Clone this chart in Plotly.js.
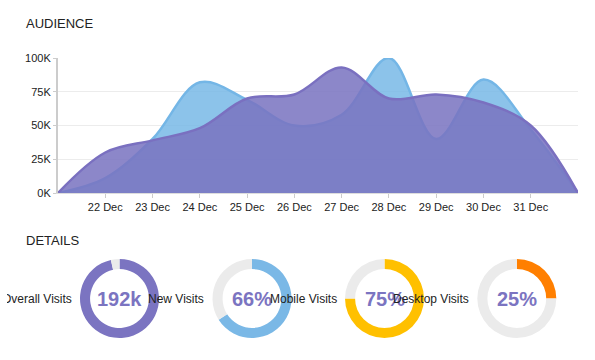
<!DOCTYPE html>
<html>
<head>
<meta charset="utf-8">
<script src="https://cdn.plot.ly/plotly-3.0.1.min.js"></script>
<style>
  html, body { margin: 0; padding: 0; background: #fff; overflow: hidden; }
  #chart { position: absolute; left: 7px; top: 0; width: 588px; height: 360px; }
</style>
</head>
<body>
<div id="chart"></div>
<script>
// ---- data ----
const days = ["2016-12-21","2016-12-22","2016-12-23","2016-12-24","2016-12-25","2016-12-26",
              "2016-12-27","2016-12-28","2016-12-29","2016-12-30","2016-12-31","2017-01-01"];
const newVisits   = [0, 11000, 40000, 82000, 69000, 50000, 58000, 100000, 40000, 84000, 47000, 0];
const totalVisits = [0, 30000, 39000, 48000, 70000, 73000, 93000, 70000, 73000, 67000, 50000, 0];
const xTickDays   = ["2016-12-22","2016-12-23","2016-12-24","2016-12-25","2016-12-26",
                     "2016-12-27","2016-12-28","2016-12-29","2016-12-30","2016-12-31"];
const yTickVals   = [0, 25000, 50000, 75000, 100000];
const yTickText   = ["0K", "25K", "50K", "75K", "100K"];

const detailLabels = ["Overall Visits", "New Visits", "Mobile Visits", "Desktop Visits"];
const detailText   = ["192k", "66%", "75%", "25%"];
const detailValue  = [96.5, 66, 75, 25];   // filled share of each ring (%)
const detailColors = ["#7b74c1", "#7ab8e6", "#ffc000", "#ff7f00"];

// ---- layout helpers (page pixels -> paper fractions) ----
const W = 588, H = 360, OFF = 7;
const px = X => (X - OFF) / W;
const py = Y => 1 - Y / H;

const font = "Liberation Sans, Arial, sans-serif";

const traces = [
  {
    x: days, y: newVisits, type: "scatter", mode: "lines",
    line: {shape: "spline", smoothing: 1, color: "#74b6e6", width: 2.5},
    fill: "tozeroy", fillcolor: "rgba(120,185,230,0.85)",
    hoverinfo: "skip", xaxis: "x", yaxis: "y"
  },
  {
    x: days, y: totalVisits, type: "scatter", mode: "lines",
    line: {shape: "spline", smoothing: 1, color: "#7a70c0", width: 2.5},
    fill: "tozeroy", fillcolor: "rgba(121,115,192,0.86)",
    hoverinfo: "skip", xaxis: "x", yaxis: "y"
  }
];

const centers = [119.5, 252, 384.5, 516.8];
const cy = 298.5, R = 39.5;
const annotations = [
  {text: "AUDIENCE", x: px(24), y: py(24), xref: "paper", yref: "paper",
   xanchor: "left", yanchor: "middle", showarrow: false,
   font: {family: font, size: 13, color: "#222"}},
  {text: "DETAILS", x: px(24), y: py(241), xref: "paper", yref: "paper",
   xanchor: "left", yanchor: "middle", showarrow: false,
   font: {family: font, size: 13, color: "#222"}}
];

detailLabels.forEach((lab, i) => {
  const c = centers[i];
  traces.push({
    type: "pie", values: [detailValue[i], 100 - detailValue[i]],
    marker: {colors: [detailColors[i], "#ebebeb"], line: {width: 0}},
    hole: 0.745, sort: false, direction: "clockwise", rotation: 0,
    textinfo: "none", hoverinfo: "skip", showlegend: false,
    domain: {x: [px(c - R), px(c + R)], y: [py(cy + R), py(cy - R)]}
  });
  annotations.push({
    text: lab, x: px(c - 46), y: py(cy), xref: "paper", yref: "paper",
    xanchor: "right", yanchor: "middle", showarrow: false,
    font: {family: font, size: 12, color: "#222"}
  });
  annotations.push({
    text: "<b>" + detailText[i] + "</b>", x: px(c), y: py(cy), xref: "paper", yref: "paper",
    xanchor: "center", yanchor: "middle", showarrow: false,
    font: {family: font, size: 20, color: "#7b74c1"}
  });
});

const layout = {
  width: W, height: H,
  margin: {l: 0, r: 0, t: 0, b: 0},
  paper_bgcolor: "#fff", plot_bgcolor: "#fff",
  showlegend: false,
  font: {family: font, size: 11, color: "#222"},
  xaxis: {
    type: "date", domain: [px(58), px(578)],
    range: [days[0], days[days.length - 1]],
    tickvals: xTickDays, tickformat: "%d %b",
    ticks: "outside", ticklen: 4, tickcolor: "#ccc", tickwidth: 1,
    showgrid: false, zeroline: false,
    showline: true, linecolor: "#ddd", linewidth: 1,
    tickfont: {family: font, size: 11, color: "#222"},
    anchor: "y", fixedrange: true
  },
  yaxis: {
    domain: [py(193), py(58)], range: [0, 100000],
    tickvals: yTickVals, ticktext: yTickText,
    ticks: "outside", ticklen: 3, tickcolor: "#ccc",
    showgrid: true, gridcolor: "#ececec", gridwidth: 1,
    zeroline: false, showline: true, linecolor: "#ccc", linewidth: 2,
    tickfont: {family: font, size: 11, color: "#222"},
    anchor: "x", fixedrange: true
  },
  annotations: annotations
};

Plotly.newPlot("chart", traces, layout, {staticPlot: true, displayModeBar: false});
</script>
</body>
</html>
